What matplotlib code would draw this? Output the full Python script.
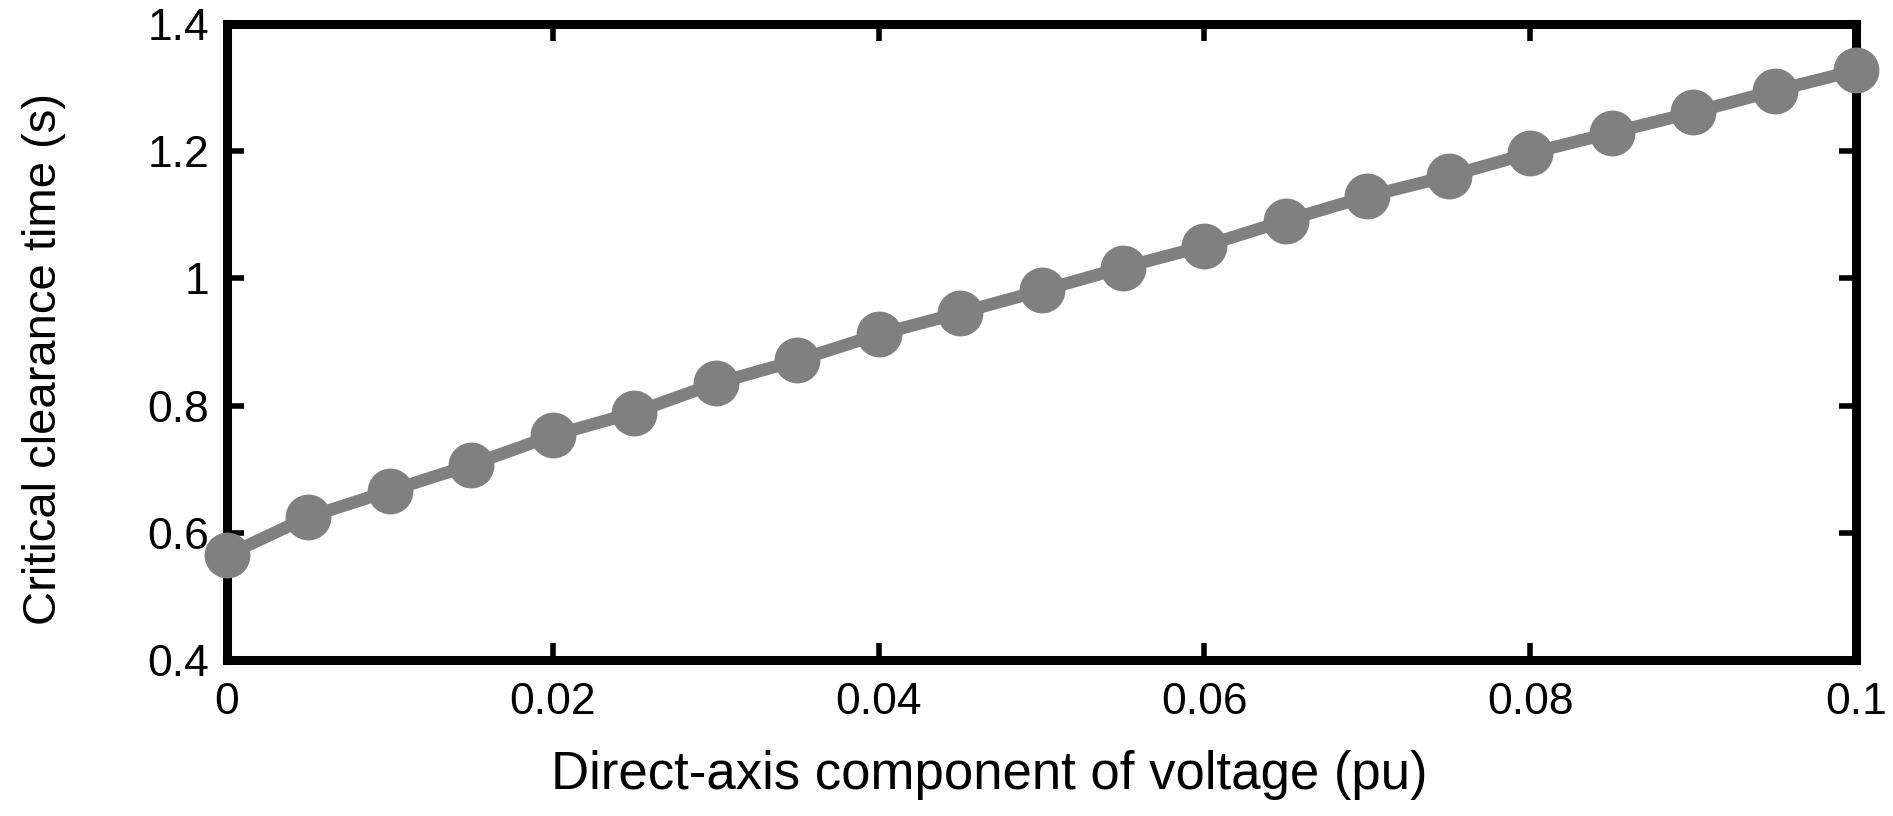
import numpy as np
import matplotlib.pyplot as plt

plt.rcParams['font.family'] = ['Liberation Sans', 'DejaVu Sans']

# direct-axis voltage (pu) and critical clearance time (s)
vd = [0.000, 0.005, 0.010, 0.015, 0.020, 0.025, 0.030, 0.035, 0.040, 0.045, 0.050,
      0.055, 0.060, 0.065, 0.070, 0.075, 0.080, 0.085, 0.090, 0.095, 0.100]
cct = [0.565, 0.625, 0.666, 0.707, 0.753, 0.789, 0.835, 0.871, 0.912, 0.946, 0.981,
       1.017, 1.051, 1.091, 1.129, 1.161, 1.197, 1.229, 1.261, 1.295, 1.327]

xticks = [0, 0.02, 0.04, 0.06, 0.08, 0.1]
xticklabels = ['0', '0.02', '0.04', '0.06', '0.08', '0.1']
yticks = [0.4, 0.6, 0.8, 1.0, 1.2, 1.4]
yticklabels = ['0.4', '0.6', '0.8', '1', '1.2', '1.4']

fig = plt.figure(figsize=(18.93, 8.16), dpi=100)
ax = fig.add_axes([227 / 1893, 1 - 660 / 816, (1856 - 227) / 1893, (660 - 24) / 816])

ax.plot(vd, cct, color='#808080', lw=9, marker='o', ms=32,
        markerfacecolor='#808080', markeredgecolor='#808080', clip_on=False, zorder=3)

ax.set_xlim(0, 0.1)
ax.set_ylim(0.4, 1.4)
ax.set_xticks(xticks)
ax.set_xticklabels(xticklabels)
ax.set_yticks(yticks)
ax.set_yticklabels(yticklabels)
ax.tick_params(direction='in', length=12, width=4, labelsize=32, top=True, right=True)
ax.tick_params(axis='x', pad=16)
ax.tick_params(axis='y', pad=13)
for s in ax.spines.values():
    s.set_linewidth(6.5)

ax.set_xlabel('Direct-axis component of voltage (pu)', fontsize=38)
ax.set_ylabel('Critical clearance time (s)', fontsize=34)
ax.xaxis.set_label_coords(0.468, -0.142)
ax.yaxis.set_label_coords(-0.099, 0.474)

plt.savefig('out.png', dpi=100)
